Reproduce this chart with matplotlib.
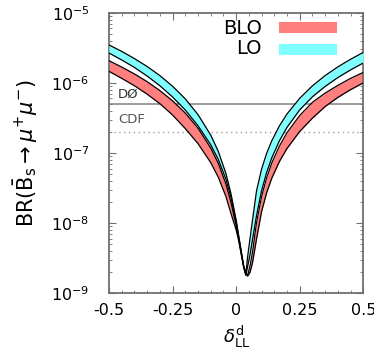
import numpy as np
import matplotlib
matplotlib.use("Agg")
import matplotlib.pyplot as plt
from matplotlib.ticker import FixedLocator, LogLocator, NullFormatter
from matplotlib.patches import Rectangle

plt.rcParams['mathtext.fontset'] = 'dejavusans'
plt.rcParams['font.family'] = ['DejaVu Sans']

delta = [-0.5, -0.45, -0.4, -0.35, -0.3, -0.25, -0.2, -0.15, -0.1, -0.07, -0.04, -0.02, 0.0,
         0.01, 0.02, 0.03, 0.038, 0.045, 0.055, 0.065, 0.08, 0.1, 0.12, 0.14, 0.17, 0.2,
         0.25, 0.3, 0.35, 0.4, 0.45, 0.5]

lo_upper = [3.47e-6, 2.81e-6, 2.22e-6, 1.71e-6, 1.27e-6, 8.95e-7, 5.91e-7, 3.53e-7, 1.80e-7, 1.05e-7, 5.07e-8,
            2.6e-8, 1.1e-8, 6.6e-9, 4.0e-9, 2.4e-9, 1.85e-9, 3.3e-9, 6.2e-9, 1.15e-8, 2.86e-8, 5.9e-8, 9.9e-8,
            1.49e-7, 2.43e-7, 3.6e-7, 6.03e-7, 9.07e-7, 1.27e-6, 1.69e-6, 2.17e-6, 2.72e-6]
lo_lower = [2.66e-6, 2.12e-6, 1.66e-6, 1.25e-6, 9.1e-7, 6.29e-7, 4.1e-7, 2.45e-7, 1.31e-7, 8.07e-8, 4.2e-8,
            2.31e-8, 1.05e-8, 6.4e-9, 3.9e-9, 2.35e-9, 1.8e-9, 2.4e-9, 3.6e-9, 6.0e-9, 1.27e-8, 2.9e-8, 5.3e-8,
            8.5e-8, 1.49e-7, 2.32e-7, 4.12e-7, 6.33e-7, 8.9e-7, 1.19e-6, 1.53e-6, 1.92e-6]
blo_upper = [2.07e-6, 1.68e-6, 1.34e-6, 1.04e-6, 7.76e-7, 5.54e-7, 3.71e-7, 2.26e-7, 1.18e-7, 7.1e-8, 3.6e-8,
             1.96e-8, 9.3e-9, 6.0e-9, 3.7e-9, 2.3e-9, 1.9e-9, 1.8e-9, 2.5e-9, 4.0e-9, 1.02e-8, 2.41e-8, 4.45e-8,
             7.2e-8, 1.25e-7, 1.95e-7, 3.43e-7, 5.28e-7, 7.15e-7, 9.2e-7, 1.16e-6, 1.41e-6]
blo_lower = [1.46e-6, 1.16e-6, 9.1e-7, 6.9e-7, 5.05e-7, 3.48e-7, 2.23e-7, 1.36e-7, 7.3e-8, 4.5e-8, 2.39e-8,
             1.36e-8, 8.0e-9, 5.6e-9, 3.6e-9, 2.4e-9, 2.0e-9, 1.75e-9, 2.0e-9, 2.8e-9, 5.9e-9, 1.46e-8, 2.72e-8,
             4.36e-8, 7.55e-8, 1.16e-7, 2.03e-7, 3.14e-7, 4.6e-7, 6.2e-7, 8.0e-7, 1.0e-6]

d0_limit = 5.0e-7
cdf_limit = 2.0e-7

xticks = [-0.5, -0.25, 0.0, 0.25, 0.5]
xticklabels = ['-0.5', '-0.25', '0', '0.25', '0.5']

blo_color = '#ff7f7f'
lo_color = '#7fffff'
spine_color = '#707070'

fig = plt.figure(figsize=(3.74, 3.60), dpi=100)
ax = fig.add_axes([0.2914, 0.1853, 0.6800, 0.7794])

ax.fill_between(delta, blo_lower, blo_upper, color=blo_color, lw=0, zorder=2)
ax.plot(delta, blo_lower, color='black', lw=0.9, zorder=3)
ax.plot(delta, blo_upper, color='black', lw=0.9, zorder=3)
ax.fill_between(delta, lo_lower, lo_upper, color=lo_color, lw=0, zorder=4)
ax.plot(delta, lo_lower, color='black', lw=0.9, zorder=5)
ax.plot(delta, lo_upper, color='black', lw=0.9, zorder=5)

ax.axhline(d0_limit, color='#808080', lw=1.1, zorder=1)
ax.axhline(cdf_limit, color='#a0a0a0', lw=1.0, ls=(0, (1, 2.5)), zorder=1)
ax.text(-0.465, d0_limit * 1.12, 'DØ', fontsize=9.5, color='#333333', ha='left', va='bottom')
ax.text(-0.465, cdf_limit * 1.2, 'CDF', fontsize=9.5, color='#555555', ha='left', va='bottom')

ax.set_yscale('log')
ax.set_xlim(-0.5, 0.5)
ax.set_ylim(1e-9, 1e-5)
ax.xaxis.set_major_locator(FixedLocator(xticks))
ax.set_xticklabels(xticklabels)
ax.xaxis.set_minor_locator(FixedLocator(np.arange(-0.5, 0.501, 0.05)))
ax.yaxis.set_major_locator(LogLocator(base=10, numticks=10))
ax.yaxis.set_minor_locator(LogLocator(base=10, subs=np.arange(2, 10), numticks=20))
ax.yaxis.set_minor_formatter(NullFormatter())

ax.tick_params(which='both', direction='in', top=True, right=True, color=spine_color)
ax.tick_params(which='major', length=5, width=0.8)
ax.tick_params(which='minor', length=2.5, width=0.6)
ax.tick_params(axis='x', which='major', labelsize=11.5, pad=7)
ax.tick_params(axis='y', which='major', labelsize=11.5, pad=14)
for s in ax.spines.values():
    s.set_color(spine_color)
    s.set_linewidth(1.3)

ax.set_ylabel(r'$\mathrm{BR}(\bar{\mathrm{B}}_{\mathrm{s}} \to \mu^{+}\mu^{-})$', fontsize=15, labelpad=8)
ax.set_xlabel(r'$\delta^{\mathrm{d}}_{\mathrm{LL}}$', fontsize=13, labelpad=4)

# legend
fig.text(262 / 374, 1 - 28 / 360, 'BLO', fontsize=14, ha='right', va='center')
fig.text(262 / 374, 1 - 49 / 360, 'LO', fontsize=14, ha='right', va='center')
fig.patches.append(Rectangle((279 / 374, 1 - 33 / 360), 58 / 374, 11 / 360, transform=fig.transFigure,
                             facecolor=blo_color, edgecolor='none', figure=fig))
fig.patches.append(Rectangle((279 / 374, 1 - 55 / 360), 58 / 374, 11 / 360, transform=fig.transFigure,
                             facecolor=lo_color, edgecolor='none', figure=fig))

fig.savefig('out.png', dpi=100)
